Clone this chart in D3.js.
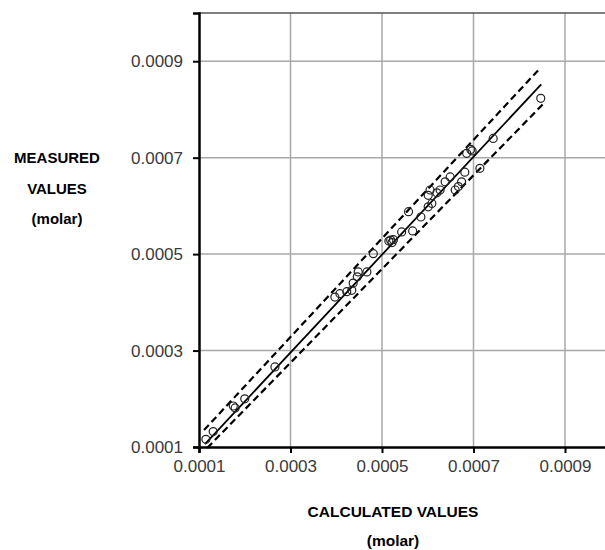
<!DOCTYPE html>
<html lang="en">
<head>
	<meta charset="UTF-8">
	<title>Measured vs calculated</title>
	<style>
		html, body { margin: 0; padding: 0; background: #fff; overflow: hidden; }
		svg { display: block; overflow: hidden; }
	</style>
</head>
<body>
	<svg width="605" height="550"></svg>

	<script src="https://d3js.org/d3.v7.min.js"></script>
	<script>
		// data (calculated, measured), molar
		var calcVals = [0.000115, 0.000131, 0.000175, 0.000179, 0.000200, 0.000266,
			0.000397, 0.000408, 0.000423, 0.000437, 0.000434, 0.000446, 0.000448, 0.000467,
			0.000481, 0.000515, 0.000519, 0.000522, 0.000525, 0.000543, 0.000558, 0.000567,
			0.000585, 0.000601, 0.000601, 0.000605, 0.000609, 0.000620, 0.000627, 0.000638,
			0.000649, 0.000660, 0.000667, 0.000674, 0.000681, 0.000685, 0.000694, 0.000697,
			0.000714, 0.000743, 0.000847];
		var measVals = [0.000116, 0.000132, 0.000185, 0.000181, 0.000200, 0.000266,
			0.000411, 0.000418, 0.000422, 0.000440, 0.000425, 0.000453, 0.000463, 0.000463,
			0.000501, 0.000527, 0.000529, 0.000524, 0.000530, 0.000546, 0.000588, 0.000548,
			0.000577, 0.000598, 0.000622, 0.000633, 0.000605, 0.000627, 0.000633, 0.000650,
			0.000660, 0.000633, 0.000640, 0.000650, 0.000670, 0.000709, 0.000717, 0.000714,
			0.000678, 0.000740, 0.000823];
		// fitted line and its band, as end points [calculated, measured]
		var fitLine = [[0.000113, 0.000106], [0.000848, 0.000852]];
		var upperBand = [[0.000111, 0.000135], [0.000841, 0.000881]];
		var lowerBand = [[0.000118, 0.000098], [0.000856, 0.000815]];
		var tickVals = [0.0001, 0.0003, 0.0005, 0.0007, 0.0009];

		var svg = d3.select("svg");
		var plotLeft = 199, plotTop = 13, plotBottom = 447;

		var xScale = d3.scaleLinear()
			.domain([0.0001, 0.001])
			.range([plotLeft, plotLeft + 9 * 45.75]);
		var yScale = d3.scaleLinear()
			.domain([0.0001, 0.001])
			.range([plotBottom, plotTop]);

		// grid
		svg.append("g").attr("class", "gridx").selectAll("line")
			.data(tickVals.slice(1))
			.enter().append("line")
			.attr("x1", d => xScale(d)).attr("x2", d => xScale(d))
			.attr("y1", plotTop).attr("y2", plotBottom)
			.attr("stroke", "#a8a8a8").attr("stroke-width", 1.5);
		svg.append("g").attr("class", "gridy").selectAll("line")
			.data(tickVals.slice(1))
			.enter().append("line")
			.attr("x1", plotLeft).attr("x2", xScale(0.001))
			.attr("y1", d => yScale(d)).attr("y2", d => yScale(d))
			.attr("stroke", "#a8a8a8").attr("stroke-width", 1.5);
		// top frame
		svg.append("line")
			.attr("x1", plotLeft).attr("x2", xScale(0.001))
			.attr("y1", plotTop).attr("y2", plotTop)
			.attr("stroke", "#555").attr("stroke-width", 1.5);

		// axes
		var xAxis = d3.axisBottom(xScale).tickValues(tickVals)
			.tickFormat(d3.format(".4f")).tickSizeOuter(0).tickSize(6).tickPadding(7);
		var yAxis = d3.axisLeft(yScale).tickValues(tickVals)
			.tickFormat(d3.format(".4f")).tickSizeOuter(0).tickSize(6).tickPadding(10);

		var gx = svg.append("g")
			.attr("transform", "translate(0," + plotBottom + ")")
			.call(xAxis);
		var gy = svg.append("g")
			.attr("transform", "translate(" + plotLeft + ",0)")
			.call(yAxis);
		[gx, gy].forEach(function(g) {
			g.select(".domain").attr("stroke", "#000").attr("stroke-width", 2.5);
			g.selectAll(".tick line").attr("stroke", "#000").attr("stroke-width", 2);
			g.selectAll(".tick text")
				.attr("fill", "#3a3a3a")
				.style("font-family", "'Liberation Sans', Arial, sans-serif")
				.style("font-size", "17px");
		});

		// lines
		var line = d3.line().x(d => xScale(d[0])).y(d => yScale(d[1]));
		svg.append("path").datum(fitLine).attr("d", line)
			.attr("fill", "none").attr("stroke", "#000").attr("stroke-width", 1.8);
		[upperBand, lowerBand].forEach(function(b) {
			svg.append("path").datum(b).attr("d", line)
				.attr("fill", "none").attr("stroke", "#000")
				.attr("stroke-width", 2.2).attr("stroke-dasharray", "7,4");
		});

		// points
		svg.append("g").selectAll("circle")
			.data(d3.range(calcVals.length))
			.enter().append("circle")
			.attr("cx", i => xScale(calcVals[i]))
			.attr("cy", i => yScale(measVals[i]))
			.attr("r", 4)
			.attr("fill", "none")
			.attr("stroke", "#222")
			.attr("stroke-width", 1.2);

		// titles
		var font = "'Liberation Sans', Arial, sans-serif";
		svg.append("g").selectAll("text")
			.data(["MEASURED", "VALUES", "(molar)"])
			.enter().append("text")
			.attr("x", 57).attr("y", (d, i) => 163 + i * 30.5)
			.attr("text-anchor", "middle")
			.style("font-family", font).style("font-weight", "bold").style("font-size", "15px")
			.text(d => d);
		svg.append("g").selectAll("text")
			.data(["CALCULATED VALUES", "(molar)"])
			.enter().append("text")
			.attr("x", 393).attr("y", (d, i) => 517 + i * 29)
			.attr("text-anchor", "middle")
			.style("font-family", font).style("font-weight", "bold").style("font-size", "15.5px")
			.text(d => d);
	</script>
</body>
</html>
